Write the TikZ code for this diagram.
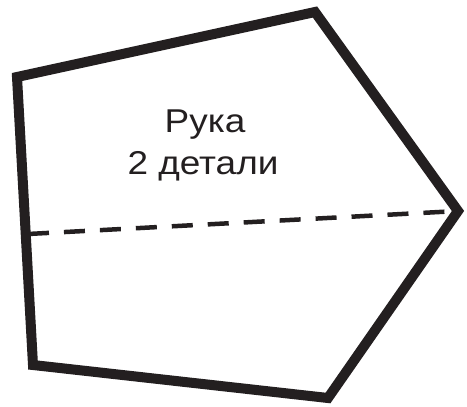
\documentclass[tikz,border=0pt]{standalone}
\usepackage{fontspec}
\setmainfont{Liberation Sans}
\definecolor{ink}{HTML}{231F20}
\begin{document}
\begin{tikzpicture}[x=1pt,y=-1pt,
  outline/.style={draw=ink,line width=10pt,line join=miter},
  foldline/.style={draw=ink,line width=4.5pt,dash pattern=on 21pt off 15pt},
  label/.style={text=ink,font=\fontsize{33}{42}\selectfont,anchor=base,inner sep=0pt}]
\useasboundingbox (0,0) rectangle (467,407);
\coordinate (A) at (17,77);
\coordinate (B) at (315,12);
\coordinate (C) at (458,211);
\coordinate (D) at (328,398);
\coordinate (E) at (33,365);
\coordinate (F) at (28,234);
\draw[outline] (A) -- (B) -- (C) -- (D) -- (E) -- cycle;
\draw[foldline] (F) -- (C);
\node[label] (t1) at (205,132) {\scalebox{1.12}[1]{Рука}};
\node[label] (t2) at (203,174) {\scalebox{1.12}[1]{2 детали}};
\end{tikzpicture}
\end{document}
